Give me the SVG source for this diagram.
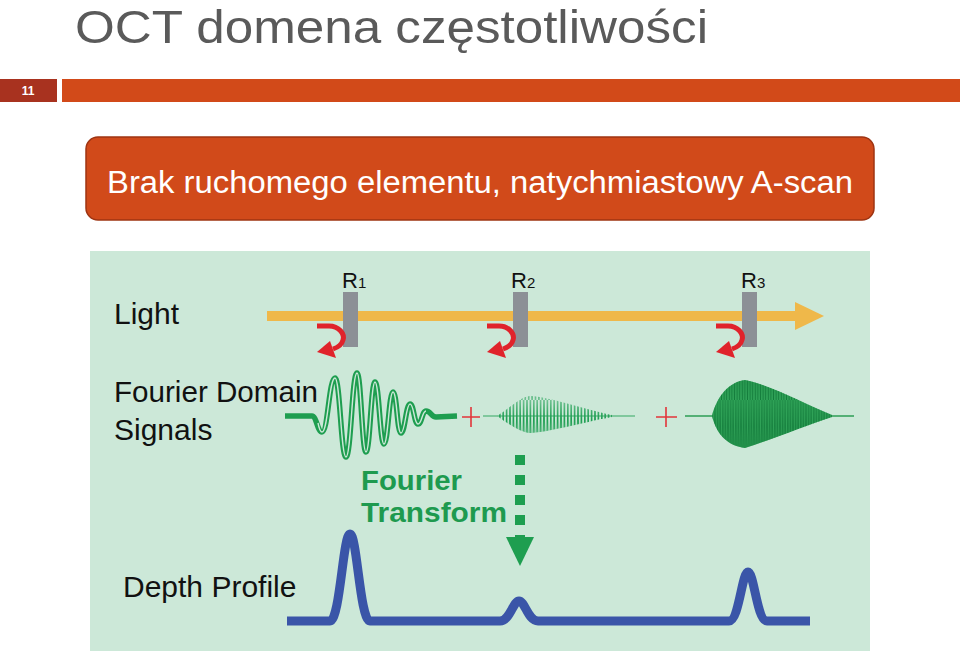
<svg xmlns="http://www.w3.org/2000/svg" width="960" height="656" viewBox="0 0 960 656">
<style>
  .lbl { font-family: "Liberation Sans", Arial, sans-serif; fill: #111; }
  .big { font-size: 30px; }
  .rl { font-size: 22px; }
  .rs { font-size: 15px; }
  .refl { fill: #8C9096; }
  .ft { font-family: "Liberation Sans", Arial, sans-serif; font-weight: bold; font-size: 27px; fill: #1E9A4F; }
  .plus { stroke: #E2353A; stroke-width: 1.6; fill: none; }
</style>
<defs>
  <g id="hook">
    <path d="M-26,10 L-14,10 C-4,10 2,18 0,24 C-1,28 -4,31 -10,33" fill="none" stroke="#E0232B" stroke-width="5"/>
    <polygon points="-26,36 -13,25 -7,42" fill="#E0232B"/>
  </g>
  <pattern id="zz" width="3.4" height="80" patternUnits="userSpaceOnUse">
    <path d="M0,0 L1.7,80 L3.4,0" stroke="#22A055" stroke-width="0.9" fill="none"/>
  </pattern>
  <pattern id="zz3" width="2.6" height="80" patternUnits="userSpaceOnUse">
    <path d="M0,0 L1.3,80 L2.6,0" stroke="#127A3A" stroke-width="0.7" fill="none"/>
  </pattern>
</defs>

<rect width="960" height="656" fill="#FFFFFF"/>

<g id="title">
  <text x="75" y="43" font-family="'Liberation Sans', Arial, sans-serif" font-size="46" fill="#5A5A5A" textLength="633" lengthAdjust="spacingAndGlyphs">OCT domena częstotliwości</text>
</g>

<g id="header-bar">
  <rect x="0" y="79" width="57" height="23" fill="#A8321F"/>
  <text x="28" y="95" text-anchor="middle" font-family="'Liberation Sans', Arial, sans-serif" font-weight="bold" font-size="12" fill="#FFFFFF">11</text>
  <rect x="62" y="79" width="898" height="23" fill="#D24A19"/>
</g>

<g id="subtitle-box">
  <rect x="86" y="137" width="788" height="83" rx="12" ry="12" fill="#D14A1A" stroke="#9E3412" stroke-width="1.5"/>
  <text x="107" y="193" font-family="'Liberation Sans', Arial, sans-serif" font-size="31" fill="#FFFFFF" textLength="746" lengthAdjust="spacingAndGlyphs">Brak ruchomego elementu, natychmiastowy A-scan</text>
</g>

<g id="figure">
  <rect x="90" y="251" width="780" height="400" fill="#CCE8D8"/>

  <g id="light-row">
    <text class="lbl big" x="114" y="324">Light</text>
    <rect x="267" y="311" width="531" height="10" fill="#EFB84A"/>
    <polygon points="795,302 824,316 795,330" fill="#EFB84A"/>
  </g>

  <g id="reflector-r1">
    <rect class="refl" x="343" y="292" width="15" height="55"/>
    <text class="lbl" x="342" y="288"><tspan class="rl">R</tspan><tspan class="rs">1</tspan></text>
    <use href="#hook" x="343" y="316"/>
  </g>
  <g id="reflector-r2">
    <rect class="refl" x="513" y="292" width="15" height="55"/>
    <text class="lbl" x="511" y="288"><tspan class="rl">R</tspan><tspan class="rs">2</tspan></text>
    <use href="#hook" x="513" y="316"/>
  </g>
  <g id="reflector-r3">
    <rect class="refl" x="742" y="292" width="15" height="55"/>
    <text class="lbl" x="741" y="288"><tspan class="rl">R</tspan><tspan class="rs">3</tspan></text>
    <use href="#hook" x="742" y="316"/>
  </g>

  <g id="signals-row">
    <text class="lbl big" x="114" y="402" textLength="204" lengthAdjust="spacingAndGlyphs">Fourier Domain</text>
    <text class="lbl big" x="114" y="440">Signals</text>

    <path d="M285,416 L312,416 C316.5,416 317.5,432 322,432 C328,432 329,378 335,378 C340,378 341,457 346,457 C351,457 352,373 357,373 C361,373 362,452 366,452 C370,452 371,382 375,382 C379,382 380,444 384,444 C388,444 389,392 393,392 C397,392 397,433 401,433 C405,433 406,404 410,404 C414,404 414,424 418,424 C422,424 422,411 426,411 C431,411 431,417 436,417 L457,416" fill="none" stroke="#1E9E50" stroke-width="5.5" stroke-linejoin="round"/>
    <path d="M318,423 C319,428 320,432 322,432 C328,432 329,378 335,378 C340,378 341,457 346,457 C351,457 352,373 357,373 C361,373 362,452 366,452 C370,452 371,382 375,382 C379,382 380,444 384,444 C388,444 389,392 393,392 C397,392 397,433 401,433 C405,433 406,404 410,404 C414,404 414,424 418,424 C422,424 422,411 426,411" fill="none" stroke="#CCE8D8" stroke-width="1.4"/>

    <path class="plus" d="M462,417 L480,417 M471,407 L471,427"/>

    <line x1="483" y1="416" x2="635" y2="416" stroke="#35A862" stroke-width="1.2"/>
    <path d="M497,416 C510,408 520,397 530,396 C550,397 580,408 612,415 L612,417 C580,423 550,432 530,433 C520,432 510,425 497,416 Z" fill="url(#zz)"/>

    <path class="plus" d="M656,417 L677,417 M666,407 L666,427"/>

    <line x1="685" y1="416" x2="854" y2="416" stroke="#2C9E55" stroke-width="1.4"/>
    <path d="M712,416 C717,396 729,382 745,380 C770,385 805,404 832,415 L832,417 C805,426 770,440 745,448 C729,446 717,436 712,416 Z" fill="#2FA257"/>
    <path d="M712,416 C717,396 729,382 745,380 C770,385 805,404 832,415 L832,417 C805,426 770,440 745,448 C729,446 717,436 712,416 Z" fill="url(#zz3)"/>
  </g>

  <g id="fourier-transform">
    <text class="ft" x="361" y="490" textLength="101" lengthAdjust="spacingAndGlyphs">Fourier</text>
    <text class="ft" x="361" y="522" textLength="146" lengthAdjust="spacingAndGlyphs">Transform</text>
    <line x1="520" y1="455" x2="520" y2="537" stroke="#1E9E50" stroke-width="10" stroke-dasharray="10,10"/>
    <polygon points="506,537 534,537 520,566" fill="#1E9E50"/>
  </g>

  <g id="depth-row">
    <text class="lbl big" x="123" y="597">Depth Profile</text>
    <path d="M287,621 L330,621 C340,621 343,534 350,534 C357,534 360,621 370,621 L500,621 C510,621 513,601 519,601 C525,601 528,621 538,621 L729,621 C739,621 742,572 748,572 C754,572 757,621 767,621 L810,621" fill="none" stroke="#3A55A8" stroke-width="9" stroke-linejoin="round"/>
  </g>
</g>
</svg>
